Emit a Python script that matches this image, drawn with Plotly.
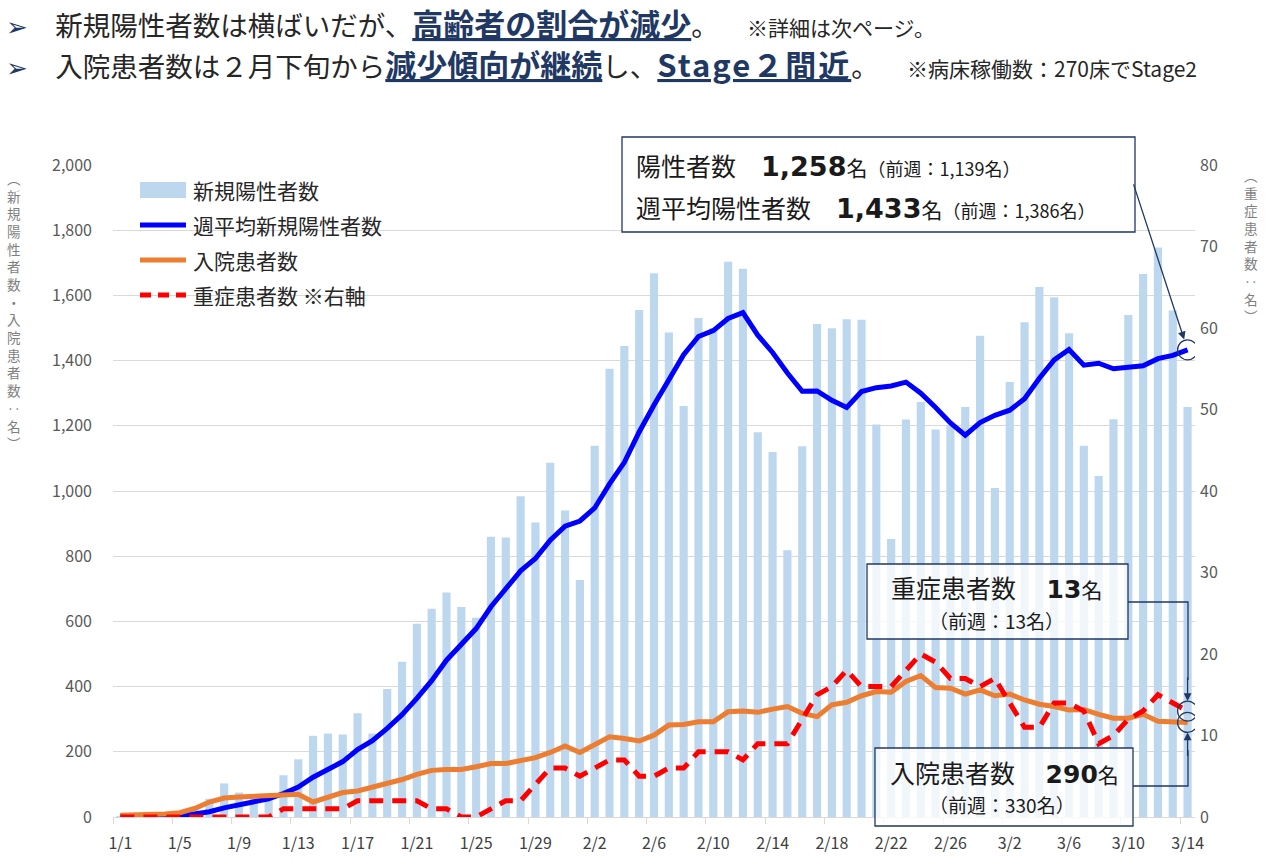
import plotly.graph_objects as go
import pandas as pd

# ---------------- data ----------------
dates = [f"{d.month}/{d.day}" for d in pd.date_range("2022-01-01", "2022-03-14")]
tick_labels = ["1/1", "1/5", "1/9", "1/13", "1/17", "1/21", "1/25", "1/29", "2/2", "2/6",
               "2/10", "2/14", "2/18", "2/22", "2/26", "3/2", "3/6", "3/10", "3/14"]

new_cases = [3, 2, 4, 7, 13, 30, 56,
             103, 75, 60, 65, 128, 177, 249,
             256, 253, 318, 256, 393, 476, 593,
             639, 689, 644, 611, 860, 857, 984,
             903, 1087, 940, 727, 1139, 1375, 1445,
             1555, 1668, 1486, 1261, 1531, 1500, 1703,
             1682, 1180, 1120, 818, 1137, 1512, 1499,
             1527, 1525, 1204, 853, 1219, 1273, 1189,
             1200, 1258, 1476, 1009, 1334, 1518, 1626,
             1594, 1484, 1139, 1046, 1220, 1540, 1666,
             1747, 1554, 1258]

weekly_avg = [3, 3, 3, 4, 6, 9, 16,
              28, 38, 48, 56, 72, 92, 122,
              144, 170, 207, 234, 272, 314, 364,
              418, 481, 527, 578, 645, 699, 755,
              793, 849, 892, 908, 948, 1022, 1088,
              1181, 1264, 1342, 1418, 1474, 1492, 1529,
              1547, 1478, 1425, 1362, 1306, 1307, 1278,
              1256, 1305, 1317, 1322, 1334, 1300, 1256,
              1209, 1171, 1210, 1232, 1248, 1283, 1346,
              1402, 1434, 1386, 1392, 1375, 1378, 1384,
              1406, 1416, 1433]

hospitalized = [5, 6, 7, 9, 13, 26, 46,
                58, 61, 64, 66, 67, 70, 46,
                62, 75, 80, 91, 103, 115, 131,
                143, 146, 146, 154, 164, 164, 174,
                182, 198, 218, 198, 221, 246, 241,
                233, 251, 282, 284, 292, 292, 323,
                325, 321, 331, 339, 318, 308, 344,
                352, 372, 385, 383, 416, 434, 397,
                395, 377, 390, 372, 377, 359, 346,
                339, 328, 330, 315, 303, 303, 315,
                294, 292, 290]

severe = [0, 0, 0, 0, 0, 0, 0,
          0, 0, 0, 0, 1, 1, 1,
          1, 1, 2, 2, 2, 2, 2,
          1, 1, 0, 0, 1, 2, 2,
          4, 6, 6, 5, 6, 7, 7,
          5, 5, 6, 6, 8, 8, 8,
          7, 9, 9, 9, 12, 15, 16,
          18, 16, 16, 16, 18, 20, 19,
          17, 17, 16, 17, 14, 11, 11,
          14, 14, 13, 9, 10, 12, 13,
          15, 14, 13]

series_names = ["新規陽性者数", "週平均新規陽性者数", "入院患者数", "重症患者数 ※右軸"]
left_title = "︵新規陽性者数・入院患者数‥名︶"
right_title = "︵重症患者数‥名︶"

# ---------------- geometry helpers (page pixels) ----------------
W, H = 1268, 866
PL, PR, PT, PB = 113, 1195, 165, 817


def px(x):
    return (x - PL) / (PR - PL)


def py(y):
    return (PB - y) / (PB - PT)


idx = list(range(len(dates)))
last = idx[-1]
NAVY = "#1F3864"
JP = "Noto Sans CJK JP"
NUM = "DejaVu Sans"

fig = go.Figure()
fig.add_bar(x=idx, y=new_cases, name=series_names[0], marker_color="#BDD7EE",
            marker_line_width=0, width=0.55)
fig.add_scatter(x=idx, y=weekly_avg, name=series_names[1], mode="lines",
                line=dict(color="#0000FF", width=5))
fig.add_scatter(x=idx, y=hospitalized, name=series_names[2], mode="lines",
                line=dict(color="#ED7D31", width=5))
fig.add_scatter(x=idx, y=severe, name=series_names[3], mode="lines", yaxis="y2",
                line=dict(color="#FF0000", width=5, dash="14px,9px"))

tickvals = [dates.index(t) for t in tick_labels]

fig.update_layout(
    width=W, height=H,
    margin=dict(l=PL, r=W - PR, t=PT, b=H - PB),
    paper_bgcolor="white", plot_bgcolor="white",
    showlegend=False,
    font=dict(family=JP, color="#404040"),
    xaxis=dict(range=[-0.5, last + 0.5], tickmode="array", tickvals=tickvals,
               ticktext=tick_labels, ticks="", showgrid=False, zeroline=False,
               showline=True, linecolor="#D9D9D9", linewidth=1,
               tickfont=dict(size=16, color="#404040", family=JP),
               ticklabelstandoff=12,
               minor=dict(ticks="outside", tick0=-0.5, dtick=4, ticklen=6,
                          tickcolor="#D9D9D9", showgrid=False)),
    yaxis=dict(range=[0, 2000], dtick=200, tickformat=",", showgrid=True,
               gridcolor="#D9D9D9", gridwidth=1, zeroline=False, showline=False,
               tickfont=dict(size=16, color="#595959", family=JP),
               ticklabelstandoff=20),
    yaxis2=dict(range=[0, 80], dtick=10, overlaying="y", side="right",
                showgrid=False, zeroline=False, showline=False,
                tickfont=dict(size=16, color="#595959", family=JP),
                ticklabelstandoff=4),
)

shapes = []
annotations = []

# ---------- manual legend ----------
leg_y = [190, 225, 260, 295]
shapes.append(dict(type="rect", xref="paper", yref="paper", x0=px(140), x1=px(186),
                   y0=py(leg_y[0] + 8), y1=py(leg_y[0] - 8), fillcolor="#BDD7EE",
                   line=dict(width=0)))
for yy, col, dash in [(leg_y[1], "#0000FF", "solid"), (leg_y[2], "#ED7D31", "solid"),
                      (leg_y[3], "#FF0000", "11px,7px")]:
    shapes.append(dict(type="line", xref="paper", yref="paper", x0=px(140), x1=px(186),
                       y0=py(yy), y1=py(yy), line=dict(color=col, width=5, dash=dash)))
for yy, name in zip(leg_y, series_names):
    annotations.append(dict(xref="paper", yref="paper", x=px(191), y=py(yy),
                            xanchor="left", yanchor="middle", showarrow=False,
                            text=name, font=dict(size=21, color="#262626", family=JP)))

# ---------- vertical axis titles (upright stacked characters) ----------
annotations.append(dict(xref="paper", yref="paper", x=px(14), y=py(166), xanchor="center",
                        yanchor="top", showarrow=False, text="<br>".join(left_title),
                        font=dict(size=13.6, color="#7F7F7F", family=JP)))
annotations.append(dict(xref="paper", yref="paper", x=px(1251), y=py(163), xanchor="center",
                        yanchor="top", showarrow=False, text="<br>".join(right_title),
                        font=dict(size=13.6, color="#7F7F7F", family=JP)))

# ---------- header ----------
UL = f"color:{NAVY};text-decoration:underline;font-size:31px"
ARW = f"<span style='color:{NAVY};font-family:{NUM};font-size:26px'>➢</span>　"
line1 = (f"{ARW}新規陽性者数は横ばいだが、<span style='{UL}'><b>高齢者の割合が減少</b></span>。"
         f"<span style='font-size:21px'>　　※詳細は次ページ。</span>")
line2 = (f"{ARW}入院患者数は２月下旬から<span style='{UL}'><b>減少傾向が継続</b></span>し、"
         f"<span style='{UL};letter-spacing:2px'><b>Stage２間近</b></span>。"
         f"<span style='font-size:21px'>　　※病床稼働数：270床でStage2</span>")
annotations.append(dict(xref="paper", yref="paper", x=px(4), y=py(23), xanchor="left",
                        yanchor="middle", showarrow=False, text=line1,
                        font=dict(size=27.5, color="#262626", family=JP)))
annotations.append(dict(xref="paper", yref="paper", x=px(4), y=py(64), xanchor="left",
                        yanchor="middle", showarrow=False, text=line2,
                        font=dict(size=27.5, color="#262626", family=JP)))

# ---------- callout 1: positives ----------
shapes.append(dict(type="rect", xref="paper", yref="paper", x0=px(622), x1=px(1135),
                   y0=py(232), y1=py(137), fillcolor="white",
                   line=dict(color=NAVY, width=1.3), layer="above"))


def bignum(v, size):
    return f"<span style='font-family:{NUM};font-size:{size}px'><b>{v}</b></span>"


pos_now = f"{new_cases[-1]:,}"
pos_prev = f"{new_cases[-8]:,}"
avg_now = f"{weekly_avg[-1]:,}"
avg_prev = f"{weekly_avg[-8]:,}"
annotations.append(dict(xref="paper", yref="paper", x=px(634), y=py(165), xanchor="left",
                        yanchor="middle", showarrow=False,
                        text=f"陽性者数　{bignum(pos_now, 27)}<span style='font-size:21px'>名</span>"
                             f"<span style='font-size:18px'>（前週：{pos_prev}名）</span>",
                        font=dict(size=25, color="#1A1A1A", family=JP)))
annotations.append(dict(xref="paper", yref="paper", x=px(634), y=py(207), xanchor="left",
                        yanchor="middle", showarrow=False,
                        text=f"週平均陽性者数　{bignum(avg_now, 27)}<span style='font-size:21px'>名</span>"
                             f"<span style='font-size:18px'>（前週：{avg_prev}名）</span>",
                        font=dict(size=25, color="#1A1A1A", family=JP)))
annotations.append(dict(xref="x", yref="y", x=last, y=weekly_avg[-1], text="",
                        showarrow=True, ax=1133 - 1187.5, ay=183 - 350,
                        arrowhead=2, arrowsize=1.2, arrowwidth=1.3, arrowcolor=NAVY,
                        standoff=11))
shapes.append(dict(type="circle", xref="x", yref="y", xsizemode="pixel", ysizemode="pixel",
                   xanchor=last, yanchor=weekly_avg[-1], x0=-10, x1=10, y0=-10, y1=10,
                   line=dict(color=NAVY, width=1.3), layer="above"))

# ---------- callout 2: severe ----------
shapes.append(dict(type="rect", xref="paper", yref="paper", x0=px(867), x1=px(1128),
                   y0=py(639), y1=py(564), fillcolor="rgba(255,255,255,0.78)",
                   line=dict(color=NAVY, width=1.3), layer="above"))
annotations.append(dict(xref="paper", yref="paper", x=px(996), y=py(587), xanchor="center",
                        yanchor="middle", showarrow=False,
                        text=f"重症患者数　 {bignum(severe[-1], 25)}<span style='font-size:21px'>名</span>",
                        font=dict(size=25, color="#1A1A1A", family=JP)))
annotations.append(dict(xref="paper", yref="paper", x=px(996), y=py(620), xanchor="center",
                        yanchor="middle", showarrow=False,
                        text=f"（前週：{severe[-8]}名）",
                        font=dict(size=19, color="#1A1A1A", family=JP)))
shapes.append(dict(type="path", xref="paper", yref="paper",
                   path=f"M {px(1128)},{py(602)} L {px(1188)},{py(602)} L {px(1188)},{py(680)}",
                   line=dict(color=NAVY, width=1.3), layer="above"))
annotations.append(dict(xref="x", yref="y2", x=last, y=severe[-1], text="", showarrow=True,
                        ax=0, ay=-35, arrowhead=2, arrowsize=1.2, arrowwidth=1.3,
                        arrowcolor=NAVY, standoff=10))
shapes.append(dict(type="circle", xref="x", yref="y2", xsizemode="pixel", ysizemode="pixel",
                   xanchor=last, yanchor=severe[-1], x0=-10, x1=10, y0=-10, y1=10,
                   line=dict(color=NAVY, width=1.3), layer="above"))

# ---------- callout 3: hospitalized ----------
shapes.append(dict(type="rect", xref="paper", yref="paper", x0=px(875), x1=px(1133),
                   y0=py(826), y1=py(748), fillcolor="rgba(255,255,255,0.78)",
                   line=dict(color=NAVY, width=1.3), layer="above"))
annotations.append(dict(xref="paper", yref="paper", x=px(1004), y=py(772), xanchor="center",
                        yanchor="middle", showarrow=False,
                        text=f"入院患者数　 {bignum(hospitalized[-1], 25)}<span style='font-size:21px'>名</span>",
                        font=dict(size=25, color="#1A1A1A", family=JP)))
annotations.append(dict(xref="paper", yref="paper", x=px(1002), y=py(804), xanchor="center",
                        yanchor="middle", showarrow=False,
                        text=f"（前週：{hospitalized[-8]}名）",
                        font=dict(size=19, color="#1A1A1A", family=JP)))
shapes.append(dict(type="path", xref="paper", yref="paper",
                   path=f"M {px(1133)},{py(786)} L {px(1188)},{py(786)} L {px(1188)},{py(750)}",
                   line=dict(color=NAVY, width=1.3), layer="above"))
annotations.append(dict(xref="x", yref="y", x=last, y=hospitalized[-1], text="", showarrow=True,
                        ax=0, ay=35, arrowhead=2, arrowsize=1.2, arrowwidth=1.3,
                        arrowcolor=NAVY, standoff=10))
shapes.append(dict(type="circle", xref="x", yref="y", xsizemode="pixel", ysizemode="pixel",
                   xanchor=last, yanchor=hospitalized[-1], x0=-10, x1=10, y0=-10, y1=10,
                   line=dict(color=NAVY, width=1.3), layer="above"))

fig.update_layout(shapes=shapes, annotations=annotations)
# remove the browser's default 8px body margin so the figure fills the window exactly
fig.write_html("out.html", config={"displayModeBar": False},
               post_script="document.body.style.margin='0px';")
